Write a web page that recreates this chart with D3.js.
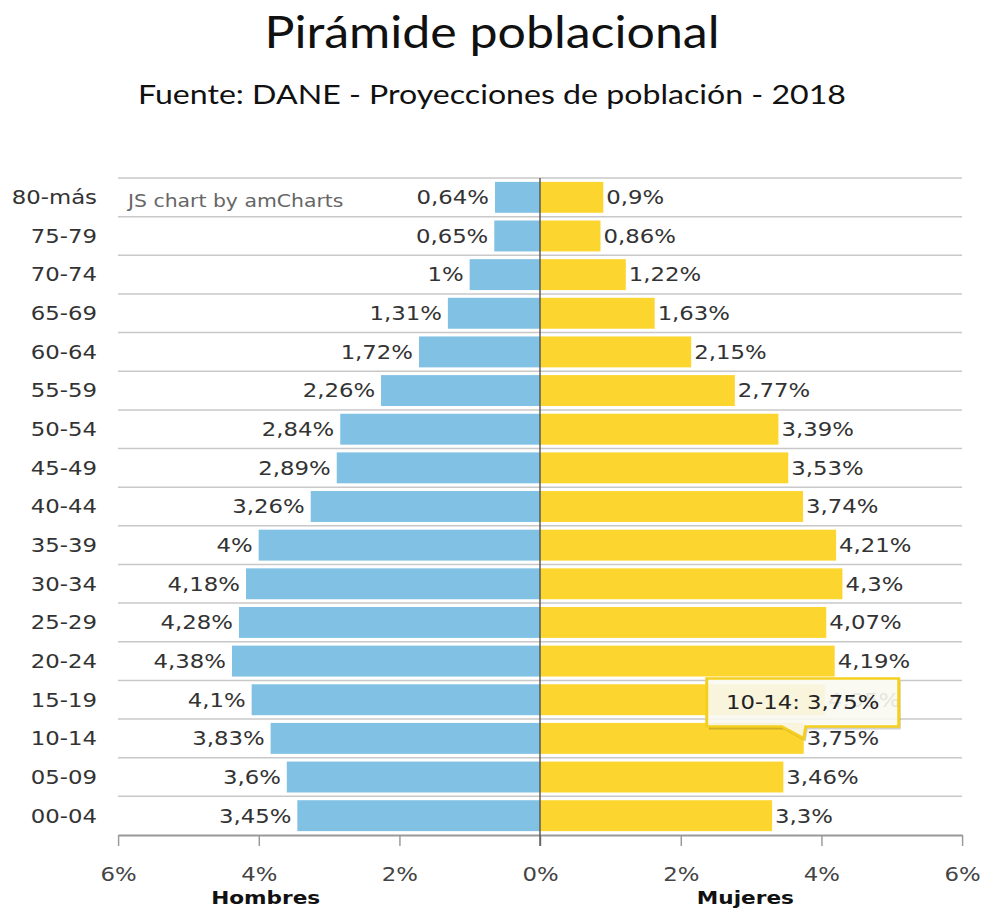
<!DOCTYPE html>
<html>
<head>
<meta charset="utf-8">
<script src="https://cdn.jsdelivr.net/npm/d3@7"></script>
<style>
  html, body { margin: 0; padding: 0; background: #fff; }
  svg { display: block; }
</style>
</head>
<body>
<svg id="chart"></svg>
<script>
// Age groups, top to bottom
const categories = ["80-más","75-79","70-74","65-69","60-64","55-59","50-54","45-49","40-44","35-39","30-34","25-29","20-24","15-19","10-14","05-09","00-04"];
// Share of total population (%) by sex
const hombres = [0.64,0.65,1,1.31,1.72,2.26,2.84,2.89,3.26,4,4.18,4.28,4.38,4.1,3.83,3.6,3.45];
const mujeres = [0.9,0.86,1.22,1.63,2.15,2.77,3.39,3.53,3.74,4.21,4.3,4.07,4.19,4.05,3.75,3.46,3.3];
const xTicks = [-6,-4,-2,0,2,4,6];
const seriesNames = ["Hombres","Mujeres"];
const title = "Pirámide poblacional";
const subtitle = "Fuente: DANE - Proyecciones de población - 2018";
const credit = "JS chart by amCharts";
const hovered = { category: "10-14", serie: 1 };

const W = 984, H = 911;
const SX = 1.2;                 // horizontal stretch of the drawing
const VW = W / SX;
const vx = px => px / SX;       // page pixels -> view units

const svg = d3.select("#chart")
  .attr("width", W).attr("height", H)
  .attr("viewBox", `0 0 ${VW} ${H}`)
  .attr("preserveAspectRatio", "none");

const labelFont = "'DejaVu Sans', Verdana, sans-serif";

const x = d3.scaleLinear().domain([-6, 6]).range([vx(118), vx(962)]);
const y = d3.scaleBand().domain(categories).range([178, 835])
  .paddingInner(0.2).paddingOuter(0.1);

const fmt = v => String(v).replace(".", ",") + "%";

// Titles
const t1 = svg.append("text").attr("x", VW / 2).attr("y", 48)
  .attr("text-anchor", "middle")
  .style("font-family", "Lato, 'Noto Sans', sans-serif")
  .style("font-size", "44px").style("fill", "#111").text(title);
t1.attr("textLength", vx(455)).attr("lengthAdjust", "spacingAndGlyphs");
const t2 = svg.append("text").attr("x", VW / 2).attr("y", 104)
  .attr("text-anchor", "middle")
  .style("font-family", "Lato, 'Noto Sans', sans-serif")
  .style("font-size", "26px").style("fill", "#111").text(subtitle);
t2.attr("textLength", vx(708)).attr("lengthAdjust", "spacingAndGlyphs");

// Horizontal grid lines at row boundaries
const step = y.step();
const bounds = categories.map(c => y(c) - y.paddingInner() * step / 2);
svg.append("g").selectAll("line").data(bounds).join("line")
  .attr("x1", x(-6)).attr("x2", x(6))
  .attr("y1", d => d).attr("y2", d => d)
  .attr("stroke", "#c8c8c8").attr("stroke-width", 1.5);

// Credit
svg.append("text").attr("x", vx(128)).attr("y", 207)
  .style("font-family", labelFont).style("font-size", "17px")
  .style("fill", "#666").text(credit);

// Bars
const rows = categories.map((c, i) => ({ c, h: hombres[i], m: mujeres[i] }));
svg.append("g").selectAll("rect").data(rows).join("rect")
  .attr("x", d => x(-d.h)).attr("width", d => x(0) - x(-d.h))
  .attr("y", d => y(d.c)).attr("height", y.bandwidth())
  .attr("fill", "#80c1e4");
svg.append("g").selectAll("rect").data(rows).join("rect")
  .attr("x", x(0)).attr("width", d => x(d.m) - x(0))
  .attr("y", d => y(d.c)).attr("height", y.bandwidth())
  .attr("fill", "#fcd62e");

// Value labels
svg.append("g").selectAll("text").data(rows).join("text")
  .attr("x", d => x(-d.h) - vx(6)).attr("y", d => y(d.c) + y.bandwidth() / 2)
  .attr("dy", "0.36em").attr("text-anchor", "end")
  .style("font-family", labelFont).style("font-size", "19px").style("fill", "#333")
  .text(d => fmt(d.h));
svg.append("g").selectAll("text").data(rows).join("text")
  .attr("x", d => x(d.m) + vx(3)).attr("y", d => y(d.c) + y.bandwidth() / 2)
  .attr("dy", "0.36em").attr("text-anchor", "start")
  .style("font-family", labelFont).style("font-size", "19px").style("fill", "#333")
  .text(d => fmt(d.m));

// Category labels
svg.append("g").selectAll("text").data(categories).join("text")
  .attr("x", vx(97)).attr("y", d => y(d) + y.bandwidth() / 2)
  .attr("dy", "0.36em").attr("text-anchor", "end")
  .style("font-family", labelFont).style("font-size", "19px").style("fill", "#333")
  .text(d => d);

// Bottom axis
const axis = svg.append("g").attr("transform", "translate(0,835)")
  .call(d3.axisBottom(x).tickValues(xTicks).tickSize(11).tickSizeOuter(0).tickPadding(22)
    .tickFormat(d => Math.abs(d) + "%"));
axis.select(".domain").attr("stroke", "#999").attr("stroke-width", 2);
axis.selectAll(".tick line").attr("stroke", "#999").attr("stroke-width", 1.2);
axis.selectAll(".tick text")
  .style("font-family", labelFont).style("font-size", "19px").style("fill", "#444");

// Zero line
svg.append("line").attr("x1", x(0)).attr("x2", x(0))
  .attr("y1", 178).attr("y2", 846)
  .attr("stroke", "#555").attr("stroke-width", 1.2);

// Series titles under the axis
svg.append("text").attr("x", x(-3.9)).attr("y", 904).attr("text-anchor", "middle")
  .style("font-family", labelFont).style("font-size", "18px").style("font-weight", "bold")
  .style("fill", "#111").text(seriesNames[0]);
svg.append("text").attr("x", x(2.92)).attr("y", 904).attr("text-anchor", "middle")
  .style("font-family", labelFont).style("font-size", "18px").style("font-weight", "bold")
  .style("fill", "#111").text(seriesNames[1]);

// Balloon for the hovered bar
const hi = categories.indexOf(hovered.category);
const hv = (hovered.serie === 1 ? mujeres : hombres)[hi];
const tipX = x(hv), tipY = y(hovered.category) + y.bandwidth() / 2;
const bl = tipX - vx(97), br = tipX + vx(95), bt = tipY - 60, bb = tipY - 12;
const balloonPath = `M${bl},${bt} L${br},${bt} L${br},${bb} L${tipX + vx(2)},${bb} L${tipX},${tipY} L${tipX - vx(22)},${bb} L${bl},${bb} Z`;
const balloon = svg.append("g");
balloon.append("path").attr("d", balloonPath)
  .attr("transform", `translate(${vx(2)},3)`)
  .attr("fill", "#000").attr("opacity", 0.18);
balloon.append("path").attr("d", balloonPath)
  .attr("fill", "#fffef6").attr("fill-opacity", 0.88)
  .attr("stroke", "#f4cf1f").attr("stroke-width", 2.5);
balloon.append("text").attr("x", (bl + br) / 2).attr("y", (bt + bb) / 2)
  .attr("dy", "0.36em").attr("text-anchor", "middle")
  .style("font-family", labelFont).style("font-size", "19px").style("fill", "#222")
  .text(`${hovered.category}: ${fmt(hv)}`);
</script>
</body>
</html>
